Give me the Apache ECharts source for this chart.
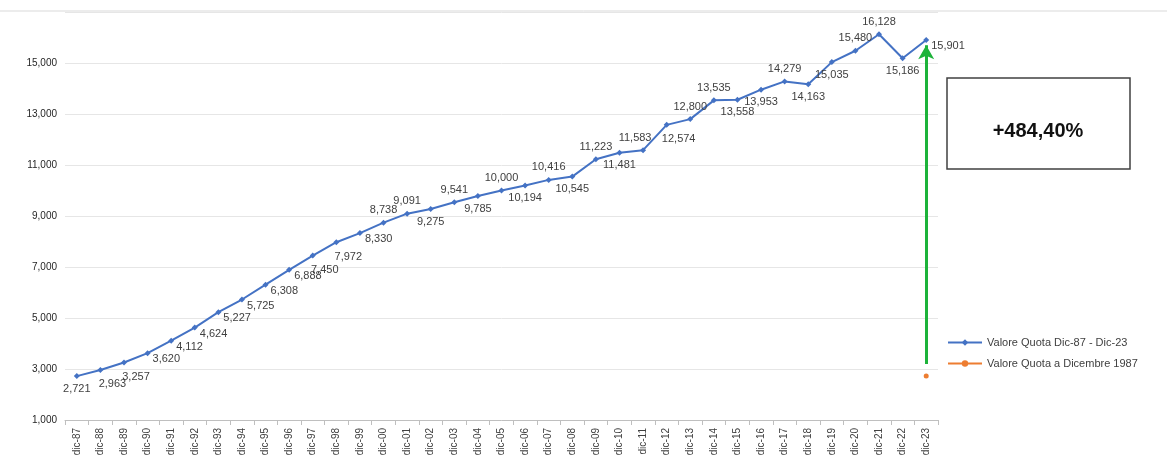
<!DOCTYPE html>
<html><head><meta charset="utf-8">
<script src="https://cdn.jsdelivr.net/npm/echarts@6/dist/echarts.min.js"></script>
<style>html,body{margin:0;background:#fff}#c{width:1167px;height:467px}</style>
</head><body><div id="c"></div>
<script>
const categories=['dic-87','dic-88','dic-89','dic-90','dic-91','dic-92','dic-93','dic-94','dic-95','dic-96','dic-97','dic-98','dic-99','dic-00','dic-01','dic-02','dic-03','dic-04','dic-05','dic-06','dic-07','dic-08','dic-09','dic-10','dic-11','dic-12','dic-13','dic-14','dic-15','dic-16','dic-17','dic-18','dic-19','dic-20','dic-21','dic-22','dic-23'];
const values=[2721,2963,3257,3620,4112,4624,5227,5725,6308,6888,7450,7972,8330,8738,9091,9275,9541,9785,10000,10194,10416,10545,11223,11481,11583,12574,12800,13535,13558,13953,14279,14163,15035,15480,16128,15186,15901];
const labelPos=['bottom','bottomR','bottomR','right','right','right','right','right','right','right','bottomR','bottomR','right','top','top','bottom','top','bottom','top','bottom','top','bottom','top','bottom','topL','bottomR','top','top','bottom','bottom','top','bottom','bottom','top','top','bottom','right'];
const baseValue=2721;
const arrowFrom=3200, arrowTo=15700;
const fmt=v=>v.toLocaleString('en-US');
const posMap={bottom:['bottom',[0,0]],bottomR:['bottom',[12,2]],right:['right',[-2,6]],top:['top',[0,0]],topL:['top',[-8,0]]};
const chart=echarts.init(document.getElementById('c'));
chart.setOption({
  animation:false,
  grid:{left:65,right:229,top:12,bottom:47},
  legend:{orient:'vertical',left:942,top:332,itemGap:10,itemWidth:34,itemHeight:8,
    textStyle:{fontSize:11,color:'#404040',fontFamily:'Liberation Sans'},
    data:['Valore Quota Dic-87 - Dic-23','Valore Quota a Dicembre 1987']},
  xAxis:{type:'category',data:categories,boundaryGap:true,
    axisLine:{lineStyle:{color:'#bfbfbf'}},axisTick:{show:true,lineStyle:{color:'#bfbfbf'}},
    axisLabel:{rotate:90,fontSize:10,color:'#404040',interval:0,fontFamily:'Liberation Sans'}},
  yAxis:{type:'value',min:1000,max:17000,interval:2000,
    axisLine:{show:false},axisTick:{show:false},
    splitLine:{lineStyle:{color:'#e6e6e6'}},
    axisLabel:{fontSize:10,color:'#262626',formatter:v=>v>=17000?'':fmt(v),fontFamily:'Liberation Sans'}},
  graphic:[
    {type:'line',shape:{x1:0,y1:11,x2:1167,y2:11},style:{stroke:'#d9d9d9',lineWidth:1}},
    {type:'rect',shape:{x:947,y:78,width:183,height:91},style:{fill:'#fff',stroke:'#404040',lineWidth:1.5}},
    {type:'text',x:1038,y:131,style:{text:'+484,40%',font:'bold 20px Liberation Sans',fill:'#111',align:'center',verticalAlign:'middle'}}
  ],
  series:[
    {name:'Valore Quota Dic-87 - Dic-23',type:'line',
     data:values.map((v,i)=>({value:v,label:{position:posMap[labelPos[i]][0],offset:posMap[labelPos[i]][1]}})),
     color:'#4472c4',symbol:'diamond',symbolSize:6,lineStyle:{width:2},
     label:{show:true,fontSize:11,color:'#404040',formatter:p=>fmt(p.value),distance:4,fontFamily:'Liberation Sans'},
     markLine:{silent:true,symbol:['none','arrow'],symbolSize:[12,14],label:{show:false},
       lineStyle:{color:'#1db33a',width:3,type:'solid'},
       data:[[{coord:['dic-23',arrowFrom]},{coord:['dic-23',arrowTo]}]]}},
    {name:'Valore Quota a Dicembre 1987',type:'line',color:'#ed7d31',symbol:'circle',symbolSize:5,
     data:categories.map((c,i)=>i===categories.length-1?baseValue:null)}
  ]
});
</script></body></html>
